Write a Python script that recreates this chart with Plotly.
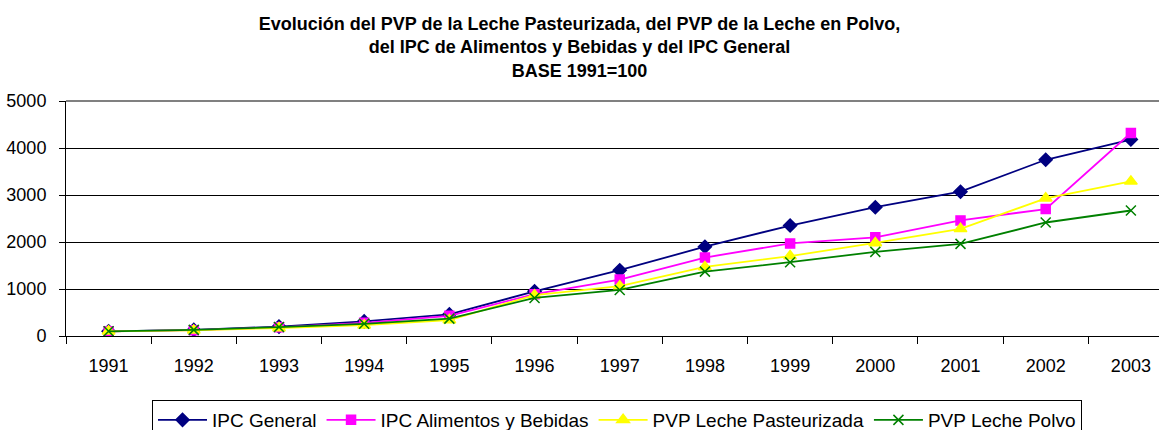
import plotly.graph_objects as go

years = ["1991", "1992", "1993", "1994", "1995", "1996", "1997",
         "1998", "1999", "2000", "2001", "2002", "2003"]
ipc_general = [100, 130, 200, 310, 460, 950, 1400, 1900, 2350, 2740, 3070, 3750, 4180]
ipc_alimentos = [100, 125, 185, 280, 430, 890, 1200, 1670, 1970, 2100, 2460, 2700, 4320]
pvp_pasteurizada = [100, 120, 170, 230, 340, 870, 1060, 1470, 1700, 1980, 2280, 2930, 3290]
pvp_polvo = [100, 130, 190, 260, 370, 810, 980, 1370, 1570, 1790, 1960, 2415, 2670]

names = ["IPC General", "IPC Alimentos y Bebidas", "PVP Leche Pasteurizada", "PVP Leche Polvo"]
series = [ipc_general, ipc_alimentos, pvp_pasteurizada, pvp_polvo]
colors = ["#000080", "#FF00FF", "#FFFF00", "#008000"]
symbols = ["diamond", "square", "triangle-up", "x-thin-open"]
msizes = [10, 9, 11, 10]

fig = go.Figure()
for n, s, c, sym, ms in zip(names, series, colors, symbols, msizes):
    fig.add_trace(go.Scatter(
        x=years, y=s, name=n, mode="lines+markers",
        line=dict(color=c, width=1.8),
        marker=dict(symbol=sym, size=ms, color=c, line=dict(color=c, width=1.5)),
    ))

fig.update_layout(
    width=1159, height=430,
    margin=dict(l=66, r=0, t=101, b=94, autoexpand=False),
    paper_bgcolor="white", plot_bgcolor="white",
    font=dict(family="Liberation Sans, Arial, sans-serif", color="black", size=18),
    title=dict(
        text="<b>Evolución del PVP de la Leche Pasteurizada, del PVP de la Leche en Polvo,<br>"
             "del IPC de Alimentos y Bebidas y del IPC General<br>BASE 1991=100</b>",
        x=0.5, xref="container", xanchor="center",
        y=1 - 30 / 430, yref="container", yanchor="top",
        font=dict(family="Liberation Sans, Arial, sans-serif", size=18, color="black"),
    ),
    showlegend=True,
    legend=dict(
        orientation="h", x=(152 - 66) / 1093, xanchor="left",
        y=(336 - 400) / 235, yanchor="top",
        bordercolor="black", borderwidth=1,
        font=dict(size=19), itemwidth=49, tracegroupgap=0,
    ),
)
fig.update_xaxes(
    type="category", range=[-0.5, 12.33],
    showline=True, linecolor="black", linewidth=1,
    ticks="outside", tickson="boundaries", ticklen=7, tickcolor="black",
    ticklabelstandoff=13,
    showgrid=False, tickfont=dict(size=18),
)
fig.update_yaxes(
    range=[0, 5000], dtick=1000,
    showline=True, linecolor="black", linewidth=1,
    ticks="outside", ticklen=6, tickcolor="black",
    ticklabelstandoff=9,
    showgrid=True, gridcolor="black", gridwidth=1,
    zeroline=False, tickfont=dict(size=18),
)
fig.add_shape(type="line", xref="paper", yref="paper", x0=0, x1=1, y0=1, y1=1,
              line=dict(color="#808080", width=2))

fig.write_html("out.html", config={"displayModeBar": False},
               post_script="document.body.style.margin='0px';")
